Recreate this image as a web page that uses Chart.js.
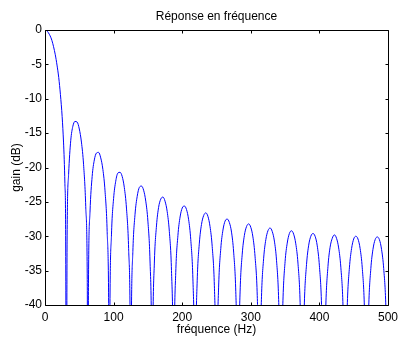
<!DOCTYPE html>
<html>
<head>
<meta charset="utf-8">
<script src="https://cdn.jsdelivr.net/npm/chart.js@4"></script>
<style>
  html, body { margin: 0; padding: 0; background: #fff; }
  #wrap { width: 403px; height: 337px; }
</style>
</head>
<body>
<div id="wrap"><canvas id="freqChart" width="403" height="337"></canvas></div>
<script>
// Frequency axis (Hz), one line per lobe
const freqHz = [
    0, 2.5, 5, 10, 15, 17.5, 20, 22.5, 25, 27, 28, 29, 30, 31.25,
    32.2, 34.4, 37.5, 40.6, 43.75, 46.9, 50, 53.1, 56.25, 59.4, 61.6, 62.5,
    63.4, 65.6, 68.75, 71.9, 75, 78.1, 81.25, 84.4, 87.5, 90.6, 92.8, 93.75,
    94.7, 96.9, 100, 103.1, 106.25, 109.4, 112.5, 115.6, 118.75, 121.9, 124.1, 125,
    125.9, 128.1, 131.25, 134.4, 137.5, 140.6, 143.75, 146.9, 150, 153.1, 155.3, 156.25,
    157.2, 159.4, 162.5, 165.6, 168.75, 171.9, 175, 178.1, 181.25, 184.4, 186.6, 187.5,
    188.4, 190.6, 193.75, 196.9, 200, 203.1, 206.25, 209.4, 212.5, 215.6, 217.8, 218.75,
    219.7, 221.9, 225, 228.1, 231.25, 234.4, 237.5, 240.6, 243.75, 246.9, 249.1, 250,
    250.9, 253.1, 256.25, 259.4, 262.5, 265.6, 268.75, 271.9, 275, 278.1, 280.3, 281.25,
    282.2, 284.4, 287.5, 290.6, 293.75, 296.9, 300, 303.1, 306.25, 309.4, 311.6, 312.5,
    313.4, 315.6, 318.75, 321.9, 325, 328.1, 331.25, 334.4, 337.5, 340.6, 342.8, 343.75,
    344.7, 346.9, 350, 353.1, 356.25, 359.4, 362.5, 365.6, 368.75, 371.9, 374.1, 375,
    375.9, 378.1, 381.25, 384.4, 387.5, 390.6, 393.75, 396.9, 400, 403.1, 405.3, 406.25,
    407.2, 409.4, 412.5, 415.6, 418.75, 421.9, 425, 428.1, 431.25, 434.4, 436.6, 437.5,
    438.4, 440.6, 443.75, 446.9, 450, 453.1, 456.25, 459.4, 462.5, 465.6, 467.8, 468.75,
    469.7, 471.9, 475, 478.1, 481.25, 484.4, 487.5, 490.6, 493.75, 496.9, 499.1, 500
];

// Gain (dB); dips go below the -40 floor and get clipped
const gainDb = [
    0, -0.1, -0.4, -1.5, -3.6, -5.1, -6.9, -9.4, -12.6, -16.3, -18.8, -22.3, -27.6, -60,
    -30.7, -21.0, -16.1, -14.0, -13.3, -13.4, -14.4, -16.3, -19.6, -25.7, -36.3, -60,
    -36.5, -26.5, -21.3, -18.9, -17.9, -17.8, -18.6, -20.3, -23.4, -29.3, -39.8, -60,
    -39.9, -29.8, -24.5, -22.0, -20.8, -20.7, -21.3, -22.9, -25.9, -31.8, -42.2, -60,
    -42.3, -32.2, -26.8, -24.2, -22.9, -22.7, -23.3, -24.9, -27.8, -33.6, -44.0, -60,
    -44.1, -33.9, -28.5, -25.8, -24.6, -24.3, -24.9, -26.4, -29.3, -35.0, -45.5, -60,
    -45.5, -35.3, -29.9, -27.2, -25.9, -25.6, -26.1, -27.6, -30.5, -36.2, -46.6, -60,
    -46.7, -36.4, -31.0, -28.3, -27.0, -26.6, -27.1, -28.6, -31.5, -37.2, -47.6, -60,
    -47.6, -37.4, -31.8, -29.1, -27.8, -27.5, -28.0, -29.4, -32.3, -38.0, -48.3, -60,
    -48.4, -38.1, -32.6, -29.9, -28.6, -28.2, -28.7, -30.1, -33.0, -38.6, -49.0, -60,
    -49.0, -38.8, -33.2, -30.5, -29.2, -28.8, -29.3, -30.7, -33.5, -39.2, -49.5, -60,
    -49.5, -39.3, -33.7, -31.0, -29.6, -29.2, -29.7, -31.1, -33.9, -39.6, -49.9, -60,
    -49.9, -39.7, -34.1, -31.3, -30.0, -29.6, -30.0, -31.4, -34.3, -39.9, -50.2, -60,
    -50.2, -40.0, -34.4, -31.6, -30.3, -29.8, -30.3, -31.7, -34.5, -40.1, -50.4, -60,
    -50.4, -40.2, -34.6, -31.8, -30.4, -30.0, -30.4, -31.8, -34.6, -40.3, -50.6, -60,
    -50.6, -40.3, -34.7, -31.9, -30.5, -30.1, -30.5, -31.9, -34.7, -40.3, -50.6, -60
];

// Axis ranges / tick steps
const xRange = [0, 500];
const xStep = 100;
const yRange = [-40, 0];
const yStep = 5;

const chartTitle = 'Réponse en fréquence';
const points = freqHz.map((f, i) => ({ x: f, y: gainDb[i] }));

const fontFamily = '"Liberation Sans", Arial, Helvetica, sans-serif';

// MATLAB-style box with inward ticks on all four sides, title centred on the axes
const boxTicks = {
    id: 'boxTicks',
    afterDraw(chart) {
        const { ctx, chartArea: a, scales: { x, y } } = chart;
        const L = Math.round(a.left) + 0.5, R = Math.round(a.right) + 0.5;
        const T = Math.round(a.top) + 0.5, B = Math.round(a.bottom) + 0.5;
        const len = 3;
        ctx.save();
        ctx.strokeStyle = '#000';
        ctx.lineWidth = 1;
        ctx.beginPath();
        ctx.rect(L, T, R - L, B - T);
        x.ticks.forEach(t => {
            const px = Math.round(x.getPixelForValue(t.value)) + 0.5;
            ctx.moveTo(px, B); ctx.lineTo(px, B - len);
            ctx.moveTo(px, T); ctx.lineTo(px, T + len);
        });
        y.ticks.forEach(t => {
            const py = Math.round(y.getPixelForValue(t.value)) + 0.5;
            ctx.moveTo(L, py); ctx.lineTo(L + len, py);
            ctx.moveTo(R, py); ctx.lineTo(R - len, py);
        });
        ctx.stroke();

        ctx.fillStyle = '#000';
        ctx.font = '12px ' + fontFamily;
        ctx.textAlign = 'center';
        ctx.textBaseline = 'middle';
        ctx.fillText(chartTitle, (a.left + a.right) / 2, 17);
        ctx.restore();
    }
};

Chart.defaults.font.family = fontFamily;
Chart.defaults.font.size = 12;
Chart.defaults.color = '#000';

new Chart(document.getElementById('freqChart'), {
    type: 'line',
    data: {
        datasets: [{
            data: points,
            borderColor: '#0000ff',
            borderWidth: 1,
            pointRadius: 0,
            fill: false,
            cubicInterpolationMode: 'monotone'
        }]
    },
    options: {
        responsive: false,
        animation: false,
        layout: { padding: { left: 0, right: 12, top: 30, bottom: 0 } },
        plugins: {
            legend: { display: false },
            tooltip: { enabled: false },
            title: { display: false }
        },
        scales: {
            x: {
                type: 'linear',
                min: xRange[0],
                max: xRange[1],
                ticks: { stepSize: xStep, padding: 5, maxRotation: 0 },
                grid: { display: false, drawTicks: false },
                border: { display: false },
                title: { display: true, text: 'fréquence (Hz)', padding: { top: 0, bottom: 0 } },
                afterFit: s => { s.height = 32; }
            },
            y: {
                min: yRange[0],
                max: yRange[1],
                ticks: { stepSize: yStep, padding: 3 },
                grid: { display: false, drawTicks: false },
                border: { display: false },
                title: { display: true, text: 'gain (dB)', padding: { top: 9, bottom: 0 } },
                afterFit: s => { s.width = 45; }
            }
        }
    },
    plugins: [boxTicks]
});
</script>
</body>
</html>
